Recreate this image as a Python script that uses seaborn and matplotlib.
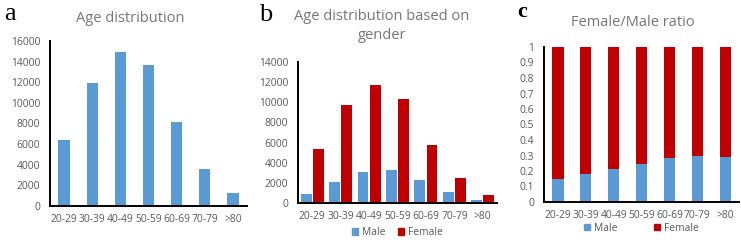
import pandas as pd
import matplotlib.pyplot as plt
import seaborn as sns
from matplotlib.patches import Patch

# grupos de idade
faixas = ["20-29", "30-39", "40-49", "50-59", "60-69", "70-79", ">80"]

# a: total por faixa
total = [6370, 11900, 14900, 13670, 8110, 3620, 1230]

# b: por genero
homens = [925, 2085, 3110, 3310, 2250, 1060, 330]
mulheres = [5360, 9700, 11690, 10290, 5790, 2510, 830]

# c: proporcao
prop_homens = [0.148, 0.178, 0.21, 0.244, 0.285, 0.30, 0.29]
prop_mulheres = [0.852, 0.822, 0.79, 0.756, 0.715, 0.70, 0.71]

azul = "#5B9BD5"
vermelho = "#C00000"
cinza = "#595959"

sns.set_style("white")
plt.rcParams["font.family"] = ["Open Sans", "DejaVu Sans"]

W, H = 741, 250
fig = plt.figure(figsize=(W / 100, H / 100), dpi=100)


def eixo(x0, x1, y_top, y_bot):
    return fig.add_axes([x0 / W, 1 - y_bot / H, (x1 - x0) / W, (y_bot - y_top) / H])


def estilo(ax, ticks, labels=None):
    sns.despine(ax=ax)
    for s in ["left", "bottom"]:
        ax.spines[s].set_color("black")
        ax.spines[s].set_linewidth(1.4)
    ax.set_yticks(ticks)
    if labels is not None:
        ax.set_yticklabels(labels)
    ax.tick_params(length=0, labelsize=7.4, labelcolor=cinza)
    ax.tick_params(axis="y", pad=7)
    ax.tick_params(axis="x", pad=6)
    ax.set_xlabel("")
    ax.set_ylabel("")
    ax.set_xlim(-0.5, len(faixas) - 0.5)


def titulo(x, y, texto):
    fig.text(x / W, 1 - y / H, texto, fontsize=10.5, color="#767676",
             ha="center", va="center", linespacing=1.35)


barra = dict(saturation=1, linewidth=0)

# --- a ---
ax1 = eixo(50, 247, 41, 206)
df_a = pd.DataFrame({"faixa": faixas, "n": total})
sns.barplot(data=df_a, x="faixa", y="n", color=azul, width=0.4, ax=ax1, **barra)
ax1.set_ylim(0, 16000)
estilo(ax1, range(0, 16001, 2000))
titulo(130, 18, "Age distribution")

# --- b ---
ax2 = eixo(298, 497, 62, 203)
df_b = pd.DataFrame({
    "faixa": faixas * 2,
    "n": homens + mulheres,
    "genero": ["Male"] * len(faixas) + ["Female"] * len(faixas),
})
sns.barplot(data=df_b, x="faixa", y="n", hue="genero", palette=[azul, vermelho],
            width=0.85, gap=0.1, ax=ax2, legend=False, **barra)
ax2.set_ylim(0, 14000)
estilo(ax2, range(0, 14001, 2000))
titulo(382, 26, "Age distribution based on\ngender")
ax2.legend([Patch(color=azul), Patch(color=vermelho)], ["Male", "Female"],
           loc="center", bbox_to_anchor=(0.5, -0.21), ncol=2, frameon=False,
           fontsize=7.4, labelcolor=cinza, handlelength=0.6, handleheight=0.6,
           handletextpad=0.4, columnspacing=1.2)

# --- c ---
ax3 = eixo(544, 739, 47, 202)
soma = [h + m for h, m in zip(prop_homens, prop_mulheres)]
df_c = pd.DataFrame({"faixa": faixas, "homens": prop_homens, "soma": soma})
sns.barplot(data=df_c, x="faixa", y="soma", color=vermelho, width=0.4, ax=ax3, **barra)
sns.barplot(data=df_c, x="faixa", y="homens", color=azul, width=0.4, ax=ax3, **barra)
ax3.set_ylim(0, 1)
ticks_c = [i / 10 for i in range(11)]
estilo(ax3, ticks_c, ["0"] + [f"{t:.1f}" for t in ticks_c[1:-1]] + ["1"])
titulo(633, 22, "Female/Male ratio")
ax3.legend([Patch(color=azul), Patch(color=vermelho)], ["Male", "Female"],
           loc="center", bbox_to_anchor=(0.5, -0.17), ncol=2, frameon=False,
           fontsize=7.4, labelcolor=cinza, handlelength=0.6, handleheight=0.6,
           handletextpad=0.4, columnspacing=3.5)

# letras dos paineis
for x, y, letra, peso, tam in [(4, 20, "a", "normal", 19), (259, 21, "b", "normal", 19),
                               (517, 17, "c", "bold", 16)]:
    fig.text(x / W, 1 - y / H, letra, fontsize=tam, family="Liberation Serif",
             fontweight=peso, color="black", va="baseline")

fig.savefig("out.png", dpi=100)
